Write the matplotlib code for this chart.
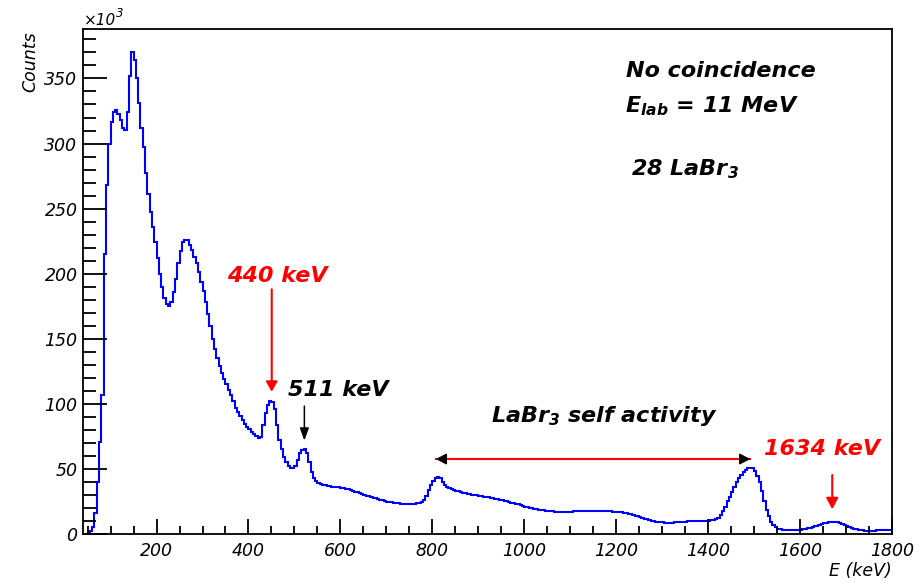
import matplotlib.pyplot as plt
import numpy as np

plt.rcParams['font.family'] = 'DejaVu Sans'
plt.rcParams['font.style'] = 'italic'
plt.rcParams['mathtext.fontset'] = 'custom'
plt.rcParams['mathtext.rm'] = 'DejaVu Sans:bold:italic'
plt.rcParams['mathtext.it'] = 'DejaVu Sans:bold:italic'

# spectrum: 5 keV bins from 40 keV, counts in units of 10^3
e_start = 40
bin_width = 5
counts = [
    0, 0, 0.5, 2, 5.5, 16, 40, 71, 107, 215, 268, 300, 316.7, 324, 325.6, 322.6, 318, 311.6, 310.3, 324,
    351.7, 370, 364, 350, 331, 312, 297, 277, 261, 247.5, 236, 224.5, 211.7, 200, 190, 181, 176.6, 175, 178.4, 186,
    196, 208, 217.6, 224.5, 226, 225.8, 222, 218, 213, 208, 201, 194, 187, 178, 169, 160, 150, 142, 135, 129,
    123.5, 119, 115, 111, 107, 102, 97, 93.5, 91, 87.5, 84.5, 82, 80.5, 78, 76.5, 75, 73.5, 74.5, 84, 93,
    99, 102.4, 101.6, 96, 84, 72, 65, 59, 55, 52, 50.8, 50.4, 52, 57, 62, 64.5, 65, 62, 55, 48,
    43, 40.5, 39, 38.2, 37.8, 37.4, 37, 36.7, 36.4, 36.2, 36, 35.8, 35.5, 35.1, 34.7, 34.3, 33.8, 33.2, 32.6, 32,
    31.4, 30.7, 30, 29.4, 28.9, 28.4, 27.9, 27.4, 26.9, 26.4, 25.9, 25.4, 24.9, 24.6, 24.3, 24, 23.7, 23.5, 23.3, 23.2,
    23.1, 23, 23, 23.1, 23.3, 23.7, 24.2, 24.8, 26.5, 29.5, 33.5, 37.5, 40.5, 43, 44, 43, 40, 37.5, 36, 35,
    34.3, 33.8, 33.3, 32.8, 32.3, 31.8, 31.4, 31, 30.6, 30.3, 30, 29.7, 29.4, 29.1, 28.8, 28.5, 28.2, 27.9, 27.5, 27.2,
    26.8, 26.4, 26, 25.6, 25.1, 24.6, 24.2, 23.7, 23.2, 22.7, 22.1, 21.5, 20.9, 20.4, 20, 19.6, 19.3, 19, 18.7, 18.4,
    18.1, 17.9, 17.7, 17.5, 17.3, 17.1, 17, 16.9, 16.9, 16.9, 17, 17.1, 17.2, 17.3, 17.4, 17.5, 17.6, 17.7, 17.8, 17.9,
    17.9, 17.9, 17.8, 17.7, 17.6, 17.5, 17.5, 17.4, 17.4, 17.3, 17.2, 17.1, 17, 16.9, 16.8, 16.5, 16.1, 15.6, 15.1, 14.5,
    14, 13.5, 13, 12.4, 11.8, 11.2, 10.6, 10.1, 9.7, 9.4, 9.2, 9, 8.9, 8.8, 8.7, 8.7, 8.8, 8.9, 9, 9.1,
    9.2, 9.4, 9.5, 9.7, 9.8, 10, 10, 10.1, 10.1, 10.2, 10.2, 10.2, 10.3, 10.5, 10.8, 11.3, 12.5, 14.6, 17.5, 21,
    25, 28.6, 32.5, 36.3, 40, 43, 45.5, 47.8, 49.2, 50.4, 50.6, 50.4, 48.5, 44.5, 40, 33, 25, 18.5, 14, 9.5,
    6.8, 5, 4.2, 3.7, 3.3, 3.1, 3.1, 3.1, 3.1, 3.1, 3.1, 3.2, 3.4, 3.6, 3.9, 4.3, 4.8, 5.3, 5.9, 6.5,
    7.1, 7.7, 8.3, 8.7, 9.1, 9.4, 9.4, 9.2, 8.9, 8.5, 7.9, 7.2, 6.4, 5.6, 4.9, 4.2, 3.6, 3.2, 2.9, 2.7,
    2.6, 2.5, 2.5, 2.5, 2.6, 2.7, 2.8, 2.9, 3, 3.1, 3.2, 3.4,
]
edges = e_start + bin_width*np.arange(len(counts) + 1)

x_major = np.arange(200, 1801, 200)
x_minor = np.arange(50, 1800, 50)
y_major = np.arange(0, 351, 50)
y_minor = np.arange(0, 390, 10)

fig = plt.figure(figsize=(9.21, 5.83), dpi=100)
ax = fig.add_axes([83/921, 1 - 534/583, (892 - 83)/921, (534 - 29)/583])

ax.stairs(counts, edges, color='#0000ff', lw=1.5)

ax.set_xlim(40, 1800)
ax.set_ylim(0, 388)
ax.set_xticks(x_major)
ax.set_xticks(x_minor, minor=True)
ax.set_yticks(y_major)
ax.set_yticks(y_minor, minor=True)
ax.tick_params(axis='y', which='major', direction='in', length=17, width=1.3, labelsize=12.5, pad=4)
ax.tick_params(axis='y', which='minor', direction='in', length=9.4, width=1.3)
ax.tick_params(axis='x', which='major', direction='in', length=11, width=1.3, labelsize=12.5, pad=6)
ax.tick_params(axis='x', which='minor', direction='in', length=5.5, width=1.3)
for s in ax.spines.values():
    s.set_linewidth(1.3)

fig.text(30/921, 1 - 31/583, 'Counts', rotation=90, ha='center', va='top', fontsize=12.5)
fig.text(892/921, 1 - 576/583, 'E (keV)', ha='right', va='baseline', fontsize=12.5)
fig.text(84/921, 1 - 25/583, '×10', ha='left', va='baseline', fontsize=11)
fig.text(116/921, 1 - 17/583, '3', ha='left', va='baseline', fontsize=8.5)

bold = dict(fontsize=16, fontweight='bold', ha='left', va='baseline')
ax.text(1222, 351, 'No coincidence', **bold)
ax.text(1220, 323.7, 'E$_{lab}$ = 11 MeV', **bold)
ax.text(1233, 275.7, '28 LaBr$_{3}$', **bold)
ax.text(353, 193.8, '440 keV', color='red', **bold)
ax.text(485, 106.2, '511 keV', color='black', **bold)
ax.text(928, 86.3, 'LaBr$_{3}$ self activity', **bold)
ax.text(1522, 60.7, '1634 keV', color='red', **bold)


def arrow(tip, tail, color, lw, hl, hw):
    ax.annotate('', xy=tip, xytext=tail,
                arrowprops=dict(arrowstyle=f'-|>,head_length={hl},head_width={hw}',
                                color=color, lw=lw, mutation_scale=10,
                                shrinkA=0, shrinkB=0))


arrow((450.6, 109.3), (450.6, 188), 'red', 1.5, 0.6, 0.34)
arrow((521.6, 71.7), (521.6, 98.3), 'black', 1.1, 0.75, 0.27)
arrow((1670, 19), (1670, 45.3), 'red', 1.5, 0.67, 0.36)

# self-activity range: red line with black heads
ax.plot([807.6, 1491.7], [57.6, 57.6], color='red', lw=1.5)
arrow((807.6, 57.6), (827, 57.6), 'black', 1.0, 0.65, 0.34)
arrow((1491.7, 57.6), (1472, 57.6), 'black', 1.0, 0.65, 0.34)

fig.savefig('out.png', dpi=100)
